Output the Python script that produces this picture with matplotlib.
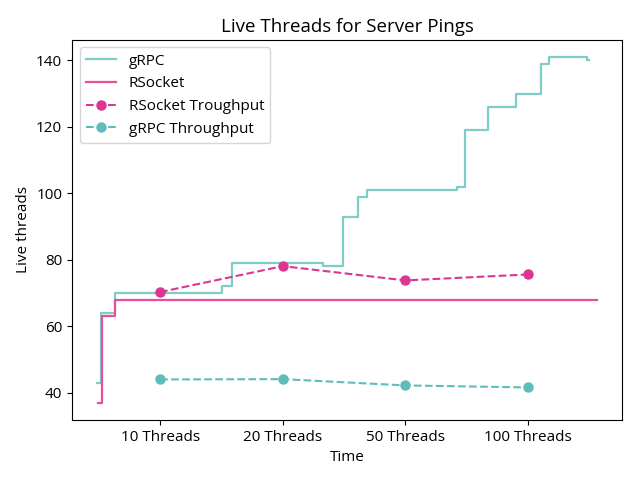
import matplotlib.pyplot as plt

plt.rcParams['font.family'] = ['Open Sans', 'DejaVu Sans']
plt.rcParams['font.size'] = 11

# thread-count checkpoints on the time axis
tick_labels = ['10 Threads', '20 Threads', '50 Threads', '100 Threads']
tick_pos = [0, 1, 2, 3]

# live threads over time (step changes), x in checkpoint units
grpc_x = [-0.514, -0.483, -0.369, 0.503, 0.585, 1.331, 1.494, 1.612, 1.685,
          2.419, 2.486, 2.671, 2.902, 3.104, 3.173, 3.478, 3.497]
grpc_y = [43, 64, 70, 72, 79, 78, 93, 99, 101,
          102, 119, 126, 130, 139, 141, 140, 140]

rsocket_x = [-0.503, -0.470, -0.367, 3.562]
rsocket_y = [37, 63, 68, 68]

# throughput measured at each checkpoint
rsocket_tp = [70.3, 78.1, 73.8, 75.6]
grpc_tp = [44.0, 44.1, 42.2, 41.6]

fig, ax = plt.subplots(figsize=(6.4, 4.8), dpi=100)

ax.plot(grpc_x, grpc_y, drawstyle='steps-post', color='#7fcdc8', lw=1.6, label='gRPC')
ax.plot(rsocket_x, rsocket_y, drawstyle='steps-post', color='#ea4f9d', lw=1.6, label='RSocket')
ax.plot(tick_pos, rsocket_tp, '--o', color='#dc3592', lw=1.5, ms=6.5, label='RSocket Troughput')
ax.plot(tick_pos, grpc_tp, '--o', color='#5fbdb9', lw=1.5, ms=6.5, label='gRPC Throughput')

ax.set_xticks(tick_pos)
ax.set_xticklabels(tick_labels)
ax.set_title('Live Threads for Server Pings', fontsize=13.5)
ax.set_xlabel('Time')
ax.set_ylabel('Live threads')
ax.legend(loc='upper left')

fig.subplots_adjust(left=0.1125, right=0.972, top=0.917, bottom=0.125)
plt.savefig('out.png')
